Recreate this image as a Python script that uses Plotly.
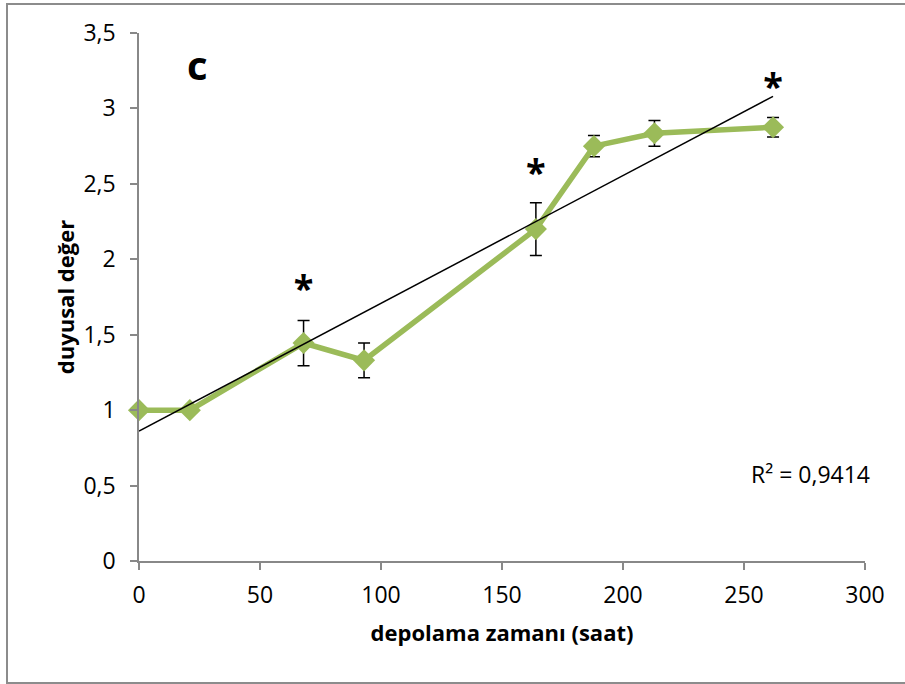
import numpy as np
import plotly.graph_objects as go

# data
hours = [0, 21, 68, 93, 164, 188, 213, 262]
score = [1.0, 1.0, 1.445, 1.33, 2.2, 2.75, 2.835, 2.875]
err = [0, 0, 0.15, 0.115, 0.175, 0.07, 0.085, 0.065]
star_x = [68, 164, 262]
star_y = [1.78, 2.55, 3.12]
r2_text = "R² = 0,9414"
x_ticks = [0, 50, 100, 150, 200, 250, 300]
y_ticks = [0, 0.5, 1, 1.5, 2, 2.5, 3, 3.5]
y_labels = ["0", "0,5", "1", "1,5", "2", "2,5", "3", "3,5"]

slope, intercept = np.polyfit(hours, score, 1)
trend_x = [0, max(hours)]
trend_y = [intercept + slope * v for v in trend_x]

FONT = "Open Sans"
fig = go.Figure()
fig.add_trace(go.Scatter(
    x=hours, y=score, mode="lines+markers",
    line=dict(color="#9BBB59", width=5.5),
    marker=dict(symbol="diamond", size=17, color="#9BBB59"),
    error_y=dict(type="data", array=err, visible=True, color="black",
                 thickness=1.5, width=6),
    showlegend=False, cliponaxis=False))
fig.add_trace(go.Scatter(
    x=trend_x, y=trend_y, mode="lines",
    line=dict(color="black", width=1.5), showlegend=False, cliponaxis=False))
fig.add_trace(go.Scatter(
    x=star_x, y=star_y, mode="text", text=["*"] * len(star_x),
    textfont=dict(family=FONT, size=36, color="black", weight="bold"),
    showlegend=False, cliponaxis=False))

fig.add_annotation(x=(197 - 139) / 726, y=(561 - 64) / 528, xref="paper", yref="paper",
                   xanchor="center", yanchor="middle",
                   text="<b>c</b>", showarrow=False,
                   font=dict(family=FONT, size=40, color="black"))
fig.add_annotation(x=(810 - 139) / 726, y=(561 - 474) / 528, xref="paper", yref="paper",
                   xanchor="center", yanchor="middle",
                   text=r2_text, showarrow=False,
                   font=dict(family=FONT, size=23, color="black"))

fig.update_layout(
    width=905, height=684,
    margin=dict(l=139, r=40, t=33, b=123),
    paper_bgcolor="white", plot_bgcolor="white",
    font=dict(family=FONT, color="black"),
    xaxis=dict(range=[0, 300], tickvals=x_ticks, showgrid=False, zeroline=False,
               showline=True, linecolor="#888888", linewidth=1.5,
               ticks="outside", ticklen=7, tickcolor="#888888", tickwidth=1.5,
               tickfont=dict(size=23, family=FONT), ticklabelstandoff=6,
               title=dict(text="<b>depolama zamanı (saat)</b>", standoff=16,
                          font=dict(size=22, family=FONT))),
    yaxis=dict(range=[0, 3.5], tickvals=y_ticks, ticktext=y_labels, showgrid=False,
               zeroline=False, showline=True, linecolor="#888888", linewidth=1.5,
               ticks="outside", ticklen=7, tickcolor="#888888", tickwidth=1.5,
               tickfont=dict(size=23, family=FONT), ticklabelstandoff=10,
               title=dict(text="<b>duyusal değer</b>", standoff=3,
                          font=dict(size=22, family=FONT))),
    shapes=[dict(type="rect", xref="paper", yref="paper",
                 x0=(7 - 139) / 726, x1=1.2, y0=(561 - 683) / 528, y1=(561 - 4) / 528,
                 line=dict(color="#8c8c8c", width=2), layer="below")],
)
fig.write_html("out.html")
